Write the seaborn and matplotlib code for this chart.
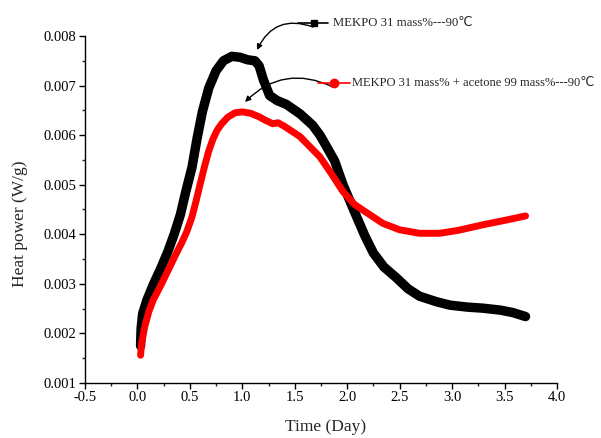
import matplotlib
matplotlib.use("Agg")
import matplotlib.pyplot as plt
from matplotlib.ticker import AutoMinorLocator, FormatStrFormatter
from matplotlib.lines import Line2D
import seaborn as sns
import pandas as pd

# ---- data ----
time_black = [0.03, 0.035, 0.05, 0.09, 0.15, 0.22, 0.29, 0.35, 0.41, 0.46, 0.52, 0.57,
              0.62, 0.68, 0.75, 0.82, 0.90, 0.98, 1.05, 1.12, 1.16, 1.20, 1.26, 1.33,
              1.42, 1.55, 1.67, 1.74, 1.80, 1.88, 1.96, 2.07, 2.17, 2.25, 2.35, 2.47,
              2.58, 2.69, 2.85, 2.98, 3.15, 3.29, 3.46, 3.58, 3.70]
power_black = [0.00175, 0.00210, 0.00240, 0.00267, 0.00298, 0.00330, 0.00365, 0.00400,
               0.00440, 0.00485, 0.00535, 0.00595, 0.00648, 0.00695, 0.00730, 0.00750,
               0.00759, 0.00757, 0.00752, 0.00750, 0.00740, 0.00712, 0.00680, 0.00670,
               0.00662, 0.00643, 0.00620, 0.00600, 0.00578, 0.00548, 0.00500, 0.00445,
               0.00396, 0.00362, 0.00334, 0.00312, 0.00290, 0.00275, 0.00264, 0.00257,
               0.00253, 0.00251, 0.00247, 0.00242, 0.00234]

time_red = [0.03, 0.04, 0.07, 0.11, 0.15, 0.23, 0.31, 0.36, 0.42, 0.47, 0.52, 0.56,
            0.60, 0.64, 0.68, 0.72, 0.76, 0.80, 0.86, 0.93, 1.00, 1.08, 1.16, 1.22,
            1.29, 1.34, 1.40, 1.55, 1.74, 1.85, 1.96, 2.07, 2.19, 2.34, 2.50, 2.69,
            2.88, 3.06, 3.29, 3.50, 3.70]
power_red = [0.00156, 0.00180, 0.00214, 0.00245, 0.00267, 0.00300, 0.00335, 0.00357,
             0.00382, 0.00405, 0.00435, 0.00468, 0.00503, 0.00537, 0.00568, 0.00592,
             0.00610, 0.00622, 0.00636, 0.00645, 0.00647, 0.00644, 0.00637, 0.00630,
             0.00623, 0.00625, 0.00618, 0.00597, 0.00556, 0.00522, 0.00486, 0.00460,
             0.00443, 0.00422, 0.00409, 0.00402, 0.00402, 0.00408, 0.00419, 0.00428,
             0.00437]

label_black = "MEKPO 31 mass%---90℃"
label_red = "MEKPO 31 mass% + acetone 99 mass%---90℃"

x_ticks = [-0.5, 0.0, 0.5, 1.0, 1.5, 2.0, 2.5, 3.0, 3.5, 4.0]
y_ticks = [0.001, 0.002, 0.003, 0.004, 0.005, 0.006, 0.007, 0.008]

# ---- style ----
sns.set_style("ticks")
plt.rcParams["font.family"] = ["Liberation Serif", "DejaVu Sans"]
plt.rcParams["xtick.direction"] = "out"
plt.rcParams["ytick.direction"] = "out"

fig = plt.figure(figsize=(6.01, 4.38), dpi=100)
ax = fig.add_axes([0.1414, 0.1256, 0.7854, 0.7922])

df_b = pd.DataFrame({"t": time_black, "p": power_black})
df_r = pd.DataFrame({"t": time_red, "p": power_red})
sns.lineplot(data=df_b, x="t", y="p", sort=False, estimator=None, color="black",
             lw=6.8, ax=ax, solid_capstyle="round", solid_joinstyle="round")
sns.lineplot(data=df_r, x="t", y="p", sort=False, estimator=None, color="#ff0000",
             lw=5.0, ax=ax, solid_capstyle="round", solid_joinstyle="round")

ax.set_xlim(-0.5, 4.0)
ax.set_ylim(0.001, 0.008)
ax.set_xticks(x_ticks)
ax.set_yticks(y_ticks)
ax.xaxis.set_major_formatter(FormatStrFormatter("%.1f"))
ax.yaxis.set_major_formatter(FormatStrFormatter("%.3f"))
ax.xaxis.set_minor_locator(AutoMinorLocator(2))
ax.yaxis.set_minor_locator(AutoMinorLocator(2))
ax.tick_params(which="major", length=4, width=1, labelsize=10.5, colors="black", pad=2)
ax.tick_params(which="minor", length=2.5, width=1)
sns.despine(ax=ax)
for s in ["left", "bottom"]:
    ax.spines[s].set_linewidth(1)
    ax.spines[s].set_color("black")

ax.set_xlabel("Time (Day)", fontsize=12.5)
ax.set_ylabel("Heat power (W/g)", fontsize=12.5)
ax.xaxis.set_label_coords(0.51, -0.105)
ax.yaxis.set_label_coords(-0.12, 0.46)

# ---- legend-style labels with curved arrows ----
W, H = 601.0, 438.0
def fx(px):
    return px / W
def fy(py):
    return 1 - py / H

fig.add_artist(Line2D([fx(298), fx(328)], [fy(23), fy(23)], color="black", lw=1.2))
fig.add_artist(Line2D([fx(314)], [fy(23)], color="black", marker="s", markersize=4.5))
fig.text(fx(333), fy(23), label_black, fontsize=9.2, va="center", ha="left")

fig.add_artist(Line2D([fx(318), fx(350)], [fy(83), fy(83)], color="#ff0000", lw=1.2))
fig.add_artist(Line2D([fx(334)], [fy(83)], color="#ff0000", marker="o", markersize=6))
fig.text(fx(352), fy(83), label_red, fontsize=9.0, va="center", ha="left")

ax.annotate("", xy=(fx(257), fy(50)), xycoords="figure fraction",
            xytext=(fx(313), fy(27)), textcoords="figure fraction",
            arrowprops=dict(arrowstyle="-|>", color="black", lw=1.0,
                            mutation_scale=8, connectionstyle="arc3,rad=0.45",
                            shrinkA=0, shrinkB=0))
ax.annotate("", xy=(fx(245), fy(102)), xycoords="figure fraction",
            xytext=(fx(333), fy(87)), textcoords="figure fraction",
            arrowprops=dict(arrowstyle="-|>", color="black", lw=1.0,
                            mutation_scale=8, connectionstyle="arc3,rad=0.35",
                            shrinkA=0, shrinkB=0))

fig.savefig("out.png", dpi=100)
